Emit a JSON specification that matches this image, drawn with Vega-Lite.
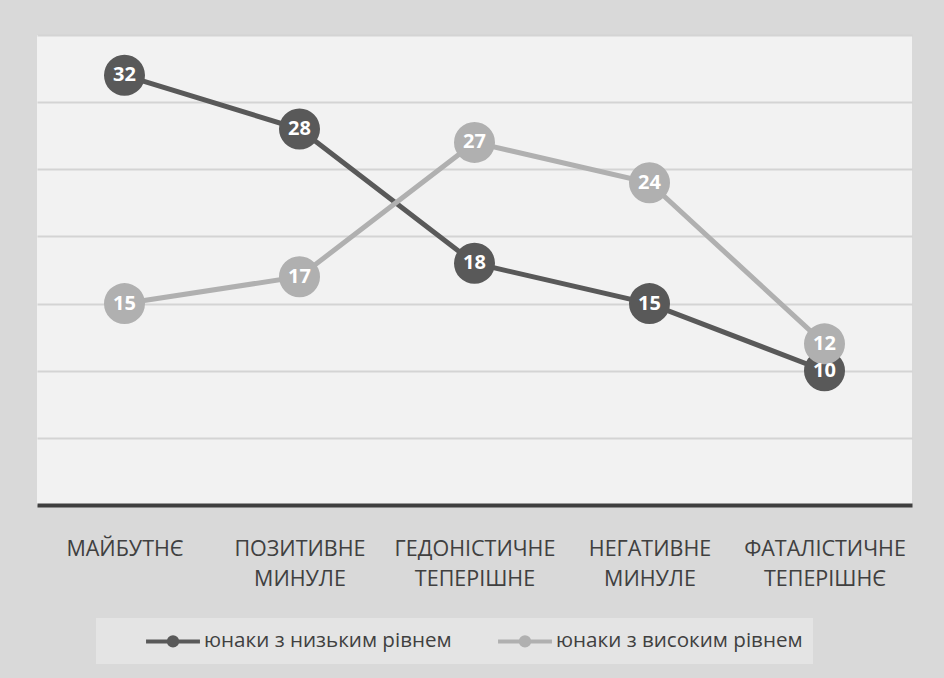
{
  "$schema": "https://vega.github.io/schema/vega-lite/v6.json",
  "width": 875,
  "height": 470,
  "autosize": "none",
  "padding": {"left": 37, "top": 35, "right": 32, "bottom": 173},
  "background": "#d9d9d9",
  "config": {
    "view": {"fill": "#f2f2f2", "stroke": null},
    "font": "Open Sans"
  },
  "data": {
    "values": [
      {"cat": "МАЙБУТНЄ", "group": "юнаки з низьким рівнем", "value": 32},
      {"cat": "ПОЗИТИВНЕ МИНУЛЕ", "group": "юнаки з низьким рівнем", "value": 28},
      {"cat": "ГЕДОНІСТИЧНЕ ТЕПЕРІШНЕ", "group": "юнаки з низьким рівнем", "value": 18},
      {"cat": "НЕГАТИВНЕ МИНУЛЕ", "group": "юнаки з низьким рівнем", "value": 15},
      {"cat": "ФАТАЛІСТИЧНЕ ТЕПЕРІШНЄ", "group": "юнаки з низьким рівнем", "value": 10},
      {"cat": "МАЙБУТНЄ", "group": "юнаки з високим рівнем", "value": 15},
      {"cat": "ПОЗИТИВНЕ МИНУЛЕ", "group": "юнаки з високим рівнем", "value": 17},
      {"cat": "ГЕДОНІСТИЧНЕ ТЕПЕРІШНЕ", "group": "юнаки з високим рівнем", "value": 27},
      {"cat": "НЕГАТИВНЕ МИНУЛЕ", "group": "юнаки з високим рівнем", "value": 24},
      {"cat": "ФАТАЛІСТИЧНЕ ТЕПЕРІШНЄ", "group": "юнаки з високим рівнем", "value": 12}
    ]
  },
  "encoding": {
    "x": {
      "field": "cat",
      "type": "nominal",
      "sort": null,
      "scale": {"type": "point", "padding": 0.5},
      "axis": {
        "title": null,
        "ticks": false,
        "grid": false,
        "domainColor": "#3f3f3f",
        "domainWidth": 4,
        "labelAngle": 0,
        "labelFont": "Open Sans",
        "labelFontSize": 21.5,
        "labelColor": "#404040",
        "labelBaseline": "top",
        "labelPadding": 33,
        "labelLineHeight": 30,
        "labelExpr": "split(datum.label, ' ')"
      }
    },
    "y": {
      "field": "value",
      "type": "quantitative",
      "scale": {"domain": [0, 35], "nice": false, "zero": true},
      "axis": {
        "title": null,
        "labels": false,
        "ticks": false,
        "domain": false,
        "grid": true,
        "values": [5, 10, 15, 20, 25, 30, 35],
        "gridColor": "#d4d4d4",
        "gridWidth": 2
      }
    },
    "color": {
      "field": "group",
      "type": "nominal",
      "sort": ["юнаки з низьким рівнем", "юнаки з високим рівнем"],
      "scale": {
        "domain": ["юнаки з низьким рівнем", "юнаки з високим рівнем"],
        "range": ["#595959", "#b0b0b0"]
      },
      "legend": {
        "title": null,
        "orient": "none",
        "direction": "horizontal",
        "legendX": 59,
        "legendY": 583,
        "fillColor": "#e4e4e4",
        "padding": 10,
        "labelFont": "Open Sans",
        "labelFontSize": 20.6,
        "labelColor": "#404040",
        "labelLimit": 500,
        "symbolOffset": 54,
        "labelOffset": 18,
        "columnPadding": 6,
        "encode": {
          "symbols": {
            "update": {
              "shape": {"value": "M-2.45,0H2.45M0.38,0A0.38,0.38,0,1,1,-0.38,0A0.38,0.38,0,1,1,0.38,0Z"},
              "size": {"value": 484},
              "strokeWidth": {"value": 4},
              "fill": {"scale": "color", "field": "value"},
              "stroke": {"scale": "color", "field": "value"},
              "opacity": {"value": 1},
              "fillOpacity": {"value": 1},
              "strokeOpacity": {"value": 1}
            }
          }
        }
      }
    }
  },
  "layer": [
    {
      "mark": {"type": "line", "strokeWidth": 5}
    },
    {
      "mark": {"type": "point", "filled": true, "opacity": 1, "size": 1681}
    },
    {
      "mark": {
        "type": "text",
        "font": "Open Sans",
        "fontWeight": "bold",
        "fontSize": 20,
        "fill": "#ffffff",
        "align": "center",
        "baseline": "middle"
      },
      "encoding": {
        "text": {"field": "value", "type": "quantitative"},
        "color": {"value": "#ffffff"}
      }
    }
  ]
}
